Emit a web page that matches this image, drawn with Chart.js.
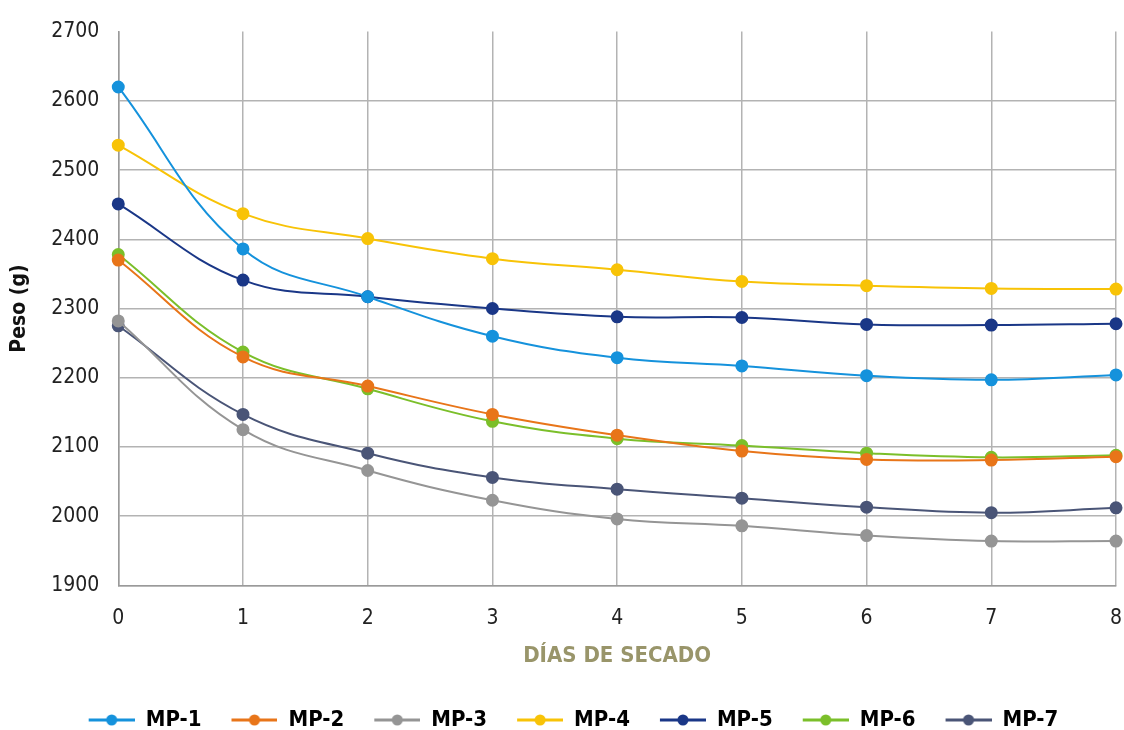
<!DOCTYPE html>
<html lang="es">
<head>
    <meta charset="UTF-8">
    <title>Peso vs días de secado</title>
    <script src="https://cdn.jsdelivr.net/npm/chart.js"></script>
    <style>
        body { margin: 0; padding: 0; background: #ffffff; }
        .wrap { width: 1124px; height: 730px; }
    </style>
</head>
<body>
    <div class="wrap"><canvas id="chart" width="1124" height="730"></canvas></div>
    <script>
        const dias = ['0', '1', '2', '3', '4', '5', '6', '7', '8'];
        const mp1 = [2620, 2386, 2317, 2260, 2229, 2217, 2203, 2197, 2204];
        const mp2 = [2370, 2230, 2188, 2147, 2117, 2094, 2082, 2081, 2086];
        const mp3 = [2282, 2125, 2066, 2023, 1996, 1986, 1972, 1964, 1964];
        const mp4 = [2536, 2437, 2401, 2372, 2356, 2339, 2333, 2329, 2328];
        const mp5 = [2451, 2341, 2317, 2300, 2288, 2287, 2277, 2276, 2278];
        const mp6 = [2378, 2237, 2184, 2137, 2112, 2102, 2091, 2085, 2088];
        const mp7 = [2275, 2147, 2091, 2056, 2039, 2026, 2013, 2005, 2012];

        const nombres = ['MP-1', 'MP-2', 'MP-3', 'MP-4', 'MP-5', 'MP-6', 'MP-7'];
        const colores = ['#1592dc', '#e87519', '#959595', '#f8c307', '#1a3787', '#7bbf2a', '#4a5577'];
        const series = [mp1, mp2, mp3, mp4, mp5, mp6, mp7];

        const fuente = "'Liberation Sans Narrow', 'DejaVu Sans Condensed', 'Roboto', sans-serif";

        // icono de leyenda: línea con punto (con hueco a la izquierda para separar items)
        function icono(color) {
            const c = document.createElement('canvas');
            c.width = 62; c.height = 14;
            const g = c.getContext('2d');
            g.strokeStyle = color;
            g.lineWidth = 3;
            g.beginPath(); g.moveTo(16, 7); g.lineTo(62, 7); g.stroke();
            g.fillStyle = color;
            g.beginPath(); g.arc(39, 7, 5.5, 0, Math.PI * 2); g.fill();
            return c;
        }

        const datasets = series.map((d, i) => ({
            label: nombres[i],
            data: d,
            borderColor: colores[i],
            backgroundColor: colores[i],
            borderWidth: 2,
            pointRadius: 5.5,
            pointHoverRadius: 6,
            pointStyle: 'circle',
            tension: 0.4,
            fill: false
        }));

        const iconos = colores.map(icono);

        new Chart(document.getElementById('chart').getContext('2d'), {
            type: 'line',
            data: { labels: dias, datasets: datasets },
            options: {
                responsive: false,
                animation: false,
                layout: { padding: { top: 11, right: 0, left: 7, bottom: -11 } },
                plugins: {
                    legend: {
                        position: 'bottom',
                        labels: {
                            usePointStyle: true,
                            pointStyleWidth: 62,
                            boxHeight: 14,
                            padding: 14,
                            color: '#111111',
                            font: { family: fuente, size: 22, weight: 'bold' },
                            generateLabels: chart => chart.data.datasets.map((ds, i) => ({
                                text: ds.label,
                                fillStyle: ds.borderColor,
                                strokeStyle: ds.borderColor,
                                pointStyle: iconos[i],
                                lineWidth: 0,
                                hidden: false,
                                datasetIndex: i
                            }))
                        }
                    },
                    tooltip: { enabled: false }
                },
                scales: {
                    x: {
                        offset: false,
                        grid: { color: '#b3b3b3', lineWidth: 1.5, drawTicks: false },
                        border: { color: '#9a9a9a', width: 1.5 },
                        ticks: { color: '#222222', padding: 21, font: { family: fuente, size: 21 } },
                        // el padding de los ticks no debe recortar el área por la derecha
                        afterFit: s => { s.paddingRight = 5; s.paddingLeft = 7; },
                        title: {
                            display: true,
                            text: 'DÍAS DE SECADO',
                            color: '#99956a',
                            padding: { top: -10, bottom: 26 },
                            font: { family: fuente, size: 22, weight: 'bold' }
                        }
                    },
                    y: {
                        min: 1900,
                        max: 2700,
                        ticks: {
                            stepSize: 100,
                            color: '#222222',
                            padding: 19,
                            font: { family: fuente, size: 21 },
                            callback: v => String(v)
                        },
                        grid: {
                            color: ctx => ctx.tick && ctx.tick.value === 2700 ? 'rgba(0,0,0,0)' : '#b3b3b3',
                            lineWidth: 1.5,
                            drawTicks: false
                        },
                        border: { color: '#9a9a9a', width: 1.5 },
                        title: {
                            display: true,
                            text: 'Peso (g)',
                            color: '#111111',
                            padding: { top: 0, bottom: 0 },
                            font: { family: fuente, size: 21, weight: 'bold' }
                        }
                    }
                }
            }
        });
    </script>
</body>
</html>
